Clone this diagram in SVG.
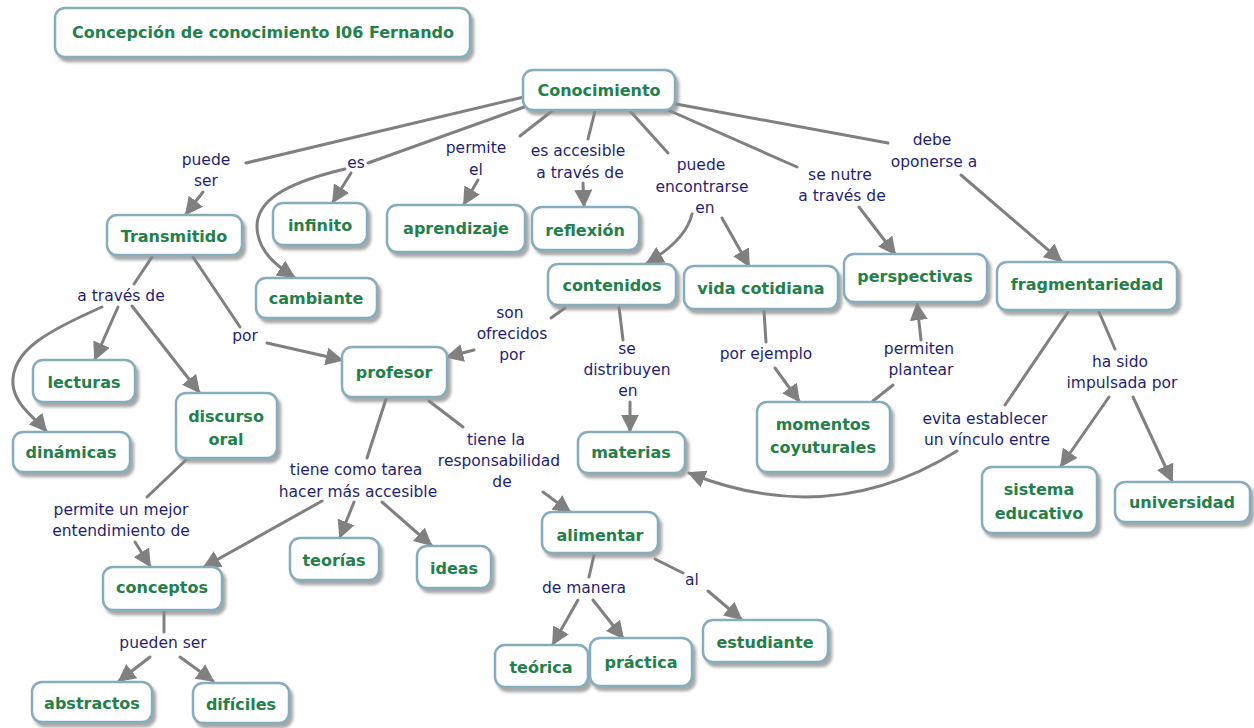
<svg xmlns="http://www.w3.org/2000/svg" width="1254" height="728" viewBox="0 0 1254 728">
  <defs>
    <filter id="shadow" x="-10%" y="-10%" width="130%" height="140%">
      <feDropShadow dx="3" dy="4" stdDeviation="1.5" flood-color="#8a8a8a" flood-opacity="0.75"/>
    </filter>
    <marker id="arrow" viewBox="0 0 10 10" refX="9" refY="5" markerWidth="6" markerHeight="6" orient="auto" markerUnits="strokeWidth">
      <path d="M0,0 L10,5 L0,10 z" fill="#808080"/>
    </marker>
  </defs>
  <style>
    .box { fill: #ffffff; stroke: #86adbd; stroke-width: 2.5; filter: url(#shadow); }
    .concept { font-family: "DejaVu Sans", Verdana, sans-serif; font-weight: bold; font-size: 16px; fill: #23804a; text-anchor: middle; }
    .label { font-family: "DejaVu Sans", Verdana, sans-serif; font-size: 15.5px; fill: #1f1f72; text-anchor: middle; }
    .link { fill: none; stroke: #808080; stroke-width: 3; stroke-linecap: round; }
    .arr { marker-end: url(#arrow); }
  </style>
  <rect width="1254" height="728" fill="#ffffff"/>

  <!-- connectors -->
  <g id="connectors">
    <!-- Conocimiento -->
    <line class="link" x1="524" y1="97" x2="246" y2="163"/>
    <line class="link arr" x1="203" y1="192" x2="186" y2="214"/>
    <line class="link" x1="527" y1="106" x2="368" y2="163"/>
    <line class="link arr" x1="351" y1="173" x2="333" y2="202"/>
    <path class="link arr" d="M345,169 C290,182 250,200 258,235 C262,255 280,268 294,277"/>
    <line class="link" x1="552" y1="111" x2="520" y2="136"/>
    <line class="link arr" x1="478" y1="180" x2="464" y2="204"/>
    <line class="link" x1="595" y1="111" x2="588" y2="139"/>
    <line class="link arr" x1="583" y1="183" x2="584" y2="206"/>
    <line class="link" x1="630" y1="111" x2="668" y2="153"/>
    <path class="link arr" d="M692,214 Q686,240 647,263"/>
    <line class="link arr" x1="722" y1="218" x2="749" y2="266"/>
    <line class="link" x1="668" y1="110" x2="797" y2="167"/>
    <line class="link arr" x1="859" y1="207" x2="895" y2="254"/>
    <line class="link" x1="676" y1="104" x2="888" y2="143"/>
    <line class="link arr" x1="961" y1="175" x2="1061" y2="261"/>
    <!-- Transmitido -->
    <line class="link" x1="152" y1="257" x2="134" y2="284"/>
    <line class="link arr" x1="118" y1="307" x2="95" y2="359"/>
    <line class="link arr" x1="132" y1="306" x2="199" y2="392"/>
    <path class="link arr" d="M102,307 C50,330 10,350 13,385 C15,405 35,418 46,431"/>
    <line class="link" x1="193" y1="257" x2="240" y2="327"/>
    <line class="link arr" x1="267" y1="343" x2="342" y2="360"/>
    <!-- discurso oral -->
    <line class="link" x1="186" y1="460" x2="147" y2="497"/>
    <line class="link arr" x1="135" y1="542" x2="150" y2="566"/>
    <!-- profesor -->
    <line class="link" x1="386" y1="399" x2="367" y2="458"/>
    <line class="link arr" x1="322" y1="501" x2="204" y2="567"/>
    <line class="link arr" x1="354" y1="502" x2="340" y2="537"/>
    <line class="link arr" x1="382" y1="502" x2="431" y2="545"/>
    <line class="link" x1="429" y1="401" x2="463" y2="427"/>
    <line class="link arr" x1="543" y1="492" x2="570" y2="512"/>
    <!-- contenidos -->
    <line class="link" x1="565" y1="308" x2="551" y2="318"/>
    <line class="link arr" x1="474" y1="350" x2="447" y2="357"/>
    <line class="link" x1="619" y1="307" x2="623" y2="340"/>
    <line class="link arr" x1="630" y1="402" x2="630" y2="431"/>
    <!-- vida cotidiana / momentos -->
    <line class="link" x1="764" y1="311" x2="766" y2="342"/>
    <line class="link arr" x1="775" y1="368" x2="799" y2="401"/>
    <line class="link" x1="873" y1="401" x2="893" y2="385"/>
    <line class="link arr" x1="921" y1="340" x2="917" y2="304"/>
    <!-- fragmentariedad -->
    <line class="link" x1="1068" y1="312" x2="1005" y2="405"/>
    <path class="link arr" d="M957,451 Q830,530 689,473"/>
    <line class="link" x1="1099" y1="312" x2="1115" y2="349"/>
    <line class="link arr" x1="1109" y1="397" x2="1061" y2="466"/>
    <line class="link arr" x1="1133" y1="397" x2="1172" y2="481"/>
    <!-- conceptos -->
    <line class="link" x1="164" y1="612" x2="164" y2="632"/>
    <line class="link arr" x1="150" y1="657" x2="119" y2="681"/>
    <line class="link arr" x1="180" y1="657" x2="213" y2="681"/>
    <!-- alimentar -->
    <line class="link" x1="594" y1="555" x2="589" y2="577"/>
    <line class="link arr" x1="578" y1="600" x2="553" y2="644"/>
    <line class="link arr" x1="593" y1="600" x2="623" y2="638"/>
    <line class="link" x1="655" y1="559" x2="683" y2="573"/>
    <line class="link arr" x1="708" y1="591" x2="741" y2="619"/>
  </g>

  <!-- link labels -->
  <g id="link-labels">
    <text class="label" x="206" y="165">puede</text>
    <text class="label" x="206" y="186">ser</text>
    <text class="label" x="356" y="168">es</text>
    <text class="label" x="476" y="153">permite</text>
    <text class="label" x="476" y="175">el</text>
    <text class="label" x="578" y="156">es accesible</text>
    <text class="label" x="580" y="178">a través de</text>
    <text class="label" x="701" y="170">puede</text>
    <text class="label" x="702" y="192">encontrarse</text>
    <text class="label" x="705" y="213">en</text>
    <text class="label" x="840" y="180">se nutre</text>
    <text class="label" x="842" y="201">a través de</text>
    <text class="label" x="932" y="145">debe</text>
    <text class="label" x="934" y="167">oponerse a</text>
    <text class="label" x="121" y="301">a través de</text>
    <text class="label" x="245" y="341">por</text>
    <text class="label" x="510" y="318">son</text>
    <text class="label" x="512" y="339">ofrecidos</text>
    <text class="label" x="512" y="360">por</text>
    <text class="label" x="627" y="354">se</text>
    <text class="label" x="627" y="375">distribuyen</text>
    <text class="label" x="628" y="396">en</text>
    <text class="label" x="496" y="445">tiene la</text>
    <text class="label" x="499" y="466">responsabilidad</text>
    <text class="label" x="502" y="487">de</text>
    <text class="label" x="356" y="475">tiene como tarea</text>
    <text class="label" x="358" y="497">hacer más accesible</text>
    <text class="label" x="121" y="515">permite un mejor</text>
    <text class="label" x="121" y="536">entendimiento de</text>
    <text class="label" x="163" y="648">pueden ser</text>
    <text class="label" x="766" y="359">por ejemplo</text>
    <text class="label" x="919" y="354">permiten</text>
    <text class="label" x="921" y="375">plantear</text>
    <text class="label" x="985" y="424">evita establecer</text>
    <text class="label" x="987" y="445">un vínculo entre</text>
    <text class="label" x="1120" y="367">ha sido</text>
    <text class="label" x="1122" y="388">impulsada por</text>
    <text class="label" x="584" y="593">de manera</text>
    <text class="label" x="692" y="585">al</text>
  </g>

  <!-- concepts -->
  <g id="title"><rect class="box" x="55" y="8" width="415" height="49" rx="10"/><text class="concept" x="263" y="38">Concepción de conocimiento I06 Fernando</text></g>
  <g id="conocimiento"><rect class="box" x="523" y="70" width="152" height="40" rx="10"/><text class="concept" x="599" y="96">Conocimiento</text></g>
  <g id="transmitido"><rect class="box" x="107" y="215" width="135" height="40" rx="10"/><text class="concept" x="174" y="242">Transmitido</text></g>
  <g id="infinito"><rect class="box" x="273" y="203" width="94" height="42" rx="10"/><text class="concept" x="320" y="231">infinito</text></g>
  <g id="cambiante"><rect class="box" x="256" y="278" width="121" height="40" rx="10"/><text class="concept" x="316" y="304">cambiante</text></g>
  <g id="aprendizaje"><rect class="box" x="387" y="205" width="138" height="47" rx="10"/><text class="concept" x="456" y="234">aprendizaje</text></g>
  <g id="reflexion"><rect class="box" x="532" y="207" width="107" height="43" rx="10"/><text class="concept" x="585" y="236">reflexión</text></g>
  <g id="contenidos"><rect class="box" x="548" y="264" width="128" height="41" rx="10"/><text class="concept" x="612" y="291">contenidos</text></g>
  <g id="vida-cotidiana"><rect class="box" x="684" y="266" width="154" height="43" rx="10"/><text class="concept" x="761" y="294">vida cotidiana</text></g>
  <g id="perspectivas"><rect class="box" x="844" y="254" width="143" height="48" rx="10"/><text class="concept" x="915" y="282">perspectivas</text></g>
  <g id="fragmentariedad"><rect class="box" x="997" y="262" width="180" height="48" rx="10"/><text class="concept" x="1087" y="290">fragmentariedad</text></g>
  <g id="profesor"><rect class="box" x="342" y="347" width="105" height="50" rx="10"/><text class="concept" x="394" y="378">profesor</text></g>
  <g id="materias"><rect class="box" x="578" y="432" width="107" height="41" rx="10"/><text class="concept" x="631" y="458">materias</text></g>
  <g id="lecturas"><rect class="box" x="33" y="360" width="102" height="42" rx="10"/><text class="concept" x="84" y="388">lecturas</text></g>
  <g id="dinamicas"><rect class="box" x="13" y="432" width="117" height="40" rx="10"/><text class="concept" x="71" y="458">dinámicas</text></g>
  <g id="discurso-oral"><rect class="box" x="176" y="393" width="101" height="65" rx="10"/><text class="concept" x="226" y="422">discurso</text><text class="concept" x="226" y="445">oral</text></g>
  <g id="momentos-coyuturales"><rect class="box" x="757" y="402" width="133" height="70" rx="10"/><text class="concept" x="823" y="430">momentos</text><text class="concept" x="823" y="453">coyuturales</text></g>
  <g id="sistema-educativo"><rect class="box" x="982" y="467" width="115" height="66" rx="10"/><text class="concept" x="1039" y="495">sistema</text><text class="concept" x="1039" y="519">educativo</text></g>
  <g id="universidad"><rect class="box" x="1115" y="482" width="135" height="40" rx="10"/><text class="concept" x="1182" y="508">universidad</text></g>
  <g id="conceptos"><rect class="box" x="103" y="567" width="119" height="43" rx="10"/><text class="concept" x="162" y="593">conceptos</text></g>
  <g id="abstractos"><rect class="box" x="32" y="682" width="120" height="40" rx="10"/><text class="concept" x="92" y="709">abstractos</text></g>
  <g id="dificiles"><rect class="box" x="193" y="683" width="96" height="40" rx="10"/><text class="concept" x="241" y="710">difíciles</text></g>
  <g id="teorias"><rect class="box" x="290" y="538" width="89" height="42" rx="10"/><text class="concept" x="334" y="566">teorías</text></g>
  <g id="ideas"><rect class="box" x="417" y="546" width="74" height="42" rx="10"/><text class="concept" x="454" y="574">ideas</text></g>
  <g id="alimentar"><rect class="box" x="542" y="512" width="116" height="41" rx="10"/><text class="concept" x="600" y="541">alimentar</text></g>
  <g id="teorica"><rect class="box" x="495" y="645" width="93" height="42" rx="10"/><text class="concept" x="541" y="673">teórica</text></g>
  <g id="practica"><rect class="box" x="590" y="638" width="102" height="48" rx="10"/><text class="concept" x="641" y="668">práctica</text></g>
  <g id="estudiante"><rect class="box" x="703" y="620" width="125" height="42" rx="10"/><text class="concept" x="765" y="648">estudiante</text></g>
</svg>
